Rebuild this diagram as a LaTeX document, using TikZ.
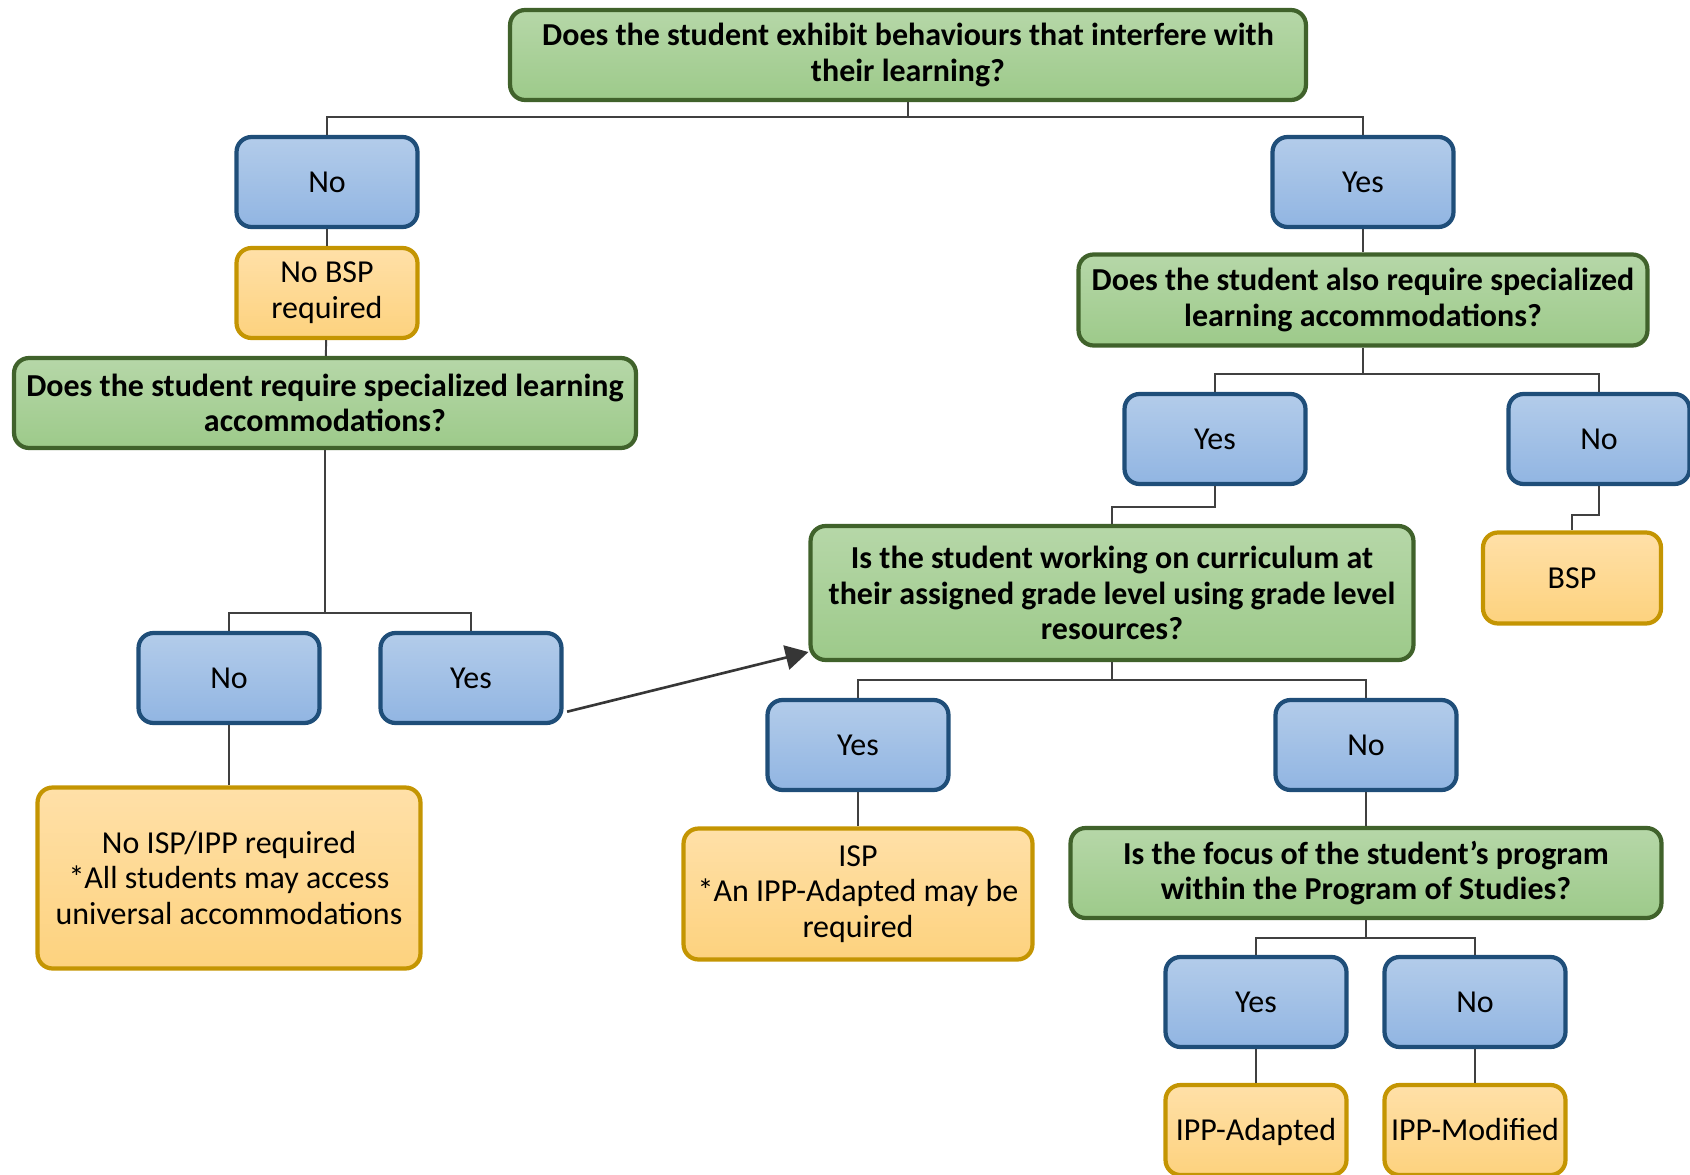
\documentclass[tikz,border=0pt]{standalone}
\usepackage{fontspec}
\setmainfont{Carlito}
\usetikzlibrary{arrows.meta}

\definecolor{qtop}{HTML}{B6D7A8}
\definecolor{qbot}{HTML}{9DCA8A}
\definecolor{qline}{HTML}{40622B}
\definecolor{atop}{HTML}{B3CCEA}
\definecolor{abot}{HTML}{91B5E2}
\definecolor{aline}{HTML}{1F4E79}
\definecolor{otop}{HTML}{FFE0A8}
\definecolor{obot}{HTML}{FDD27E}
\definecolor{oline}{HTML}{C49502}
\definecolor{wire}{HTML}{404040}

\tikzset{
  box/.style={rectangle, rounded corners=0.3cm, line width=2.4pt, align=center,
    inner sep=2pt, font=\fontsize{18.2}{20.3}\selectfont},
  qbox/.style={box, draw=qline, top color=qtop, bottom color=qbot,
    font=\fontsize{18.2}{20.3}\selectfont\bfseries},
  ansbox/.style={box, draw=aline, top color=atop, bottom color=abot,
    minimum width=3.62cm, minimum height=1.8cm, solo},
  outbox/.style={box, draw=oline, top color=otop, bottom color=obot},
  solo/.style={text height=15pt, text depth=2.5pt},
  link/.style={draw=wire, line width=1.1pt},
  pointer/.style={draw=wire!85!black, line width=1.5pt,
    -{Triangle[length=13pt, width=14pt]}}
}

\begin{document}
\begin{tikzpicture}[x=0.02cm, y=-0.02cm]
		\useasboundingbox (0,0) rectangle (1690,1175);

		% questions
		\node[qbox, minimum width=15.92cm, minimum height=1.8cm] (q1) at (908,55)
			{Does the student exhibit behaviours that interfere with\\their learning?};
		\node[qbox, minimum width=12.44cm, minimum height=1.8cm] (q2) at (325,403)
			{Does the student require specialized learning\\accommodations?};
		\node[qbox, minimum width=11.38cm, minimum height=1.82cm] (q3) at (1363,300)
			{Does the student also require specialized\\learning accommodations?};
		\node[qbox, minimum width=12.06cm, minimum height=2.68cm] (q4) at (1112,593)
			{Is the student working on curriculum at\\their assigned grade level using grade level\\resources?};
		\node[qbox, minimum width=11.82cm, minimum height=1.8cm] (q5) at (1366,873)
			{Is the focus of the student's program\\within the Program of Studies?};

		% answers
		\node[ansbox] (no1)  at (327,182)  {No};
		\node[ansbox] (yes1) at (1363,182) {Yes};
		\node[ansbox] (no2)  at (229,678)  {No};
		\node[ansbox] (yes2) at (471,678)  {Yes};
		\node[ansbox] (yes3) at (1215,439) {Yes};
		\node[ansbox] (no3)  at (1599,439) {No};
		\node[ansbox] (yes4) at (858,745)  {Yes};
		\node[ansbox] (no4)  at (1366,745) {No};
		\node[ansbox] (yes5) at (1256,1002) {Yes};
		\node[ansbox] (no5)  at (1475,1002) {No};

		% outcomes
		\node[outbox, minimum width=3.62cm, minimum height=1.8cm] (nobsp) at (327,293) {No BSP\\required};
		\node[outbox, minimum width=7.66cm, minimum height=3.62cm] (noisp) at (229,878)
			{No ISP/IPP required\\*All students may access\\universal accommodations};
		\node[outbox, solo, minimum width=3.56cm, minimum height=1.82cm] (bsp) at (1572,578) {BSP};
		\node[outbox, minimum width=6.98cm, minimum height=2.62cm] (isp) at (858,894)
			{ISP\\*An IPP-Adapted may be\\required};
		\node[outbox, solo, minimum width=3.62cm, minimum height=1.8cm] (ippa) at (1256,1130) {IPP-Adapted};
		\node[outbox, solo, minimum width=3.62cm, minimum height=1.8cm] (ippm) at (1475,1130) {IPP-Modified};

		% branch points
		\coordinate (j1) at (908,117);
		\coordinate (j2) at (1363,374);
		\coordinate (j3) at (325,613);
		\coordinate (j4) at (1112,680);
		\coordinate (j5) at (1366,938);

		\draw[link] (q1.south) -- (j1);
		\draw[link] (no1.north) |- (j1) -| (yes1.north);
		\draw[link] (no1) -- (nobsp);
		\draw[link] (nobsp) -- (q2);
		\draw[link] (q2.south) -- (j3);
		\draw[link] (no2.north) |- (j3) -| (yes2.north);
		\draw[link] (no2) -- (noisp);
		\draw[link] (yes1) -- (q3);
		\draw[link] (q3.south) -- (j2);
		\draw[link] (yes3.north) |- (j2) -| (no3.north);
		\draw[link] (yes3.south) -- ++(0,21) -| (q4.north);
		\draw[link] (no3.south) -- ++(0,29) -| (bsp.north);
		\draw[link] (q4.south) -- (j4);
		\draw[link] (yes4.north) |- (j4) -| (no4.north);
		\draw[link] (yes4) -- (isp);
		\draw[link] (no4) -- (q5);
		\draw[link] (q5.south) -- (j5);
		\draw[link] (yes5.north) |- (j5) -| (no5.north);
		\draw[link] (yes5) -- (ippa);
		\draw[link] (no5) -- (ippm);

		\draw[pointer] ([xshift=2pt]yes2.-20) -- (q4.191);
\end{tikzpicture}
\end{document}
